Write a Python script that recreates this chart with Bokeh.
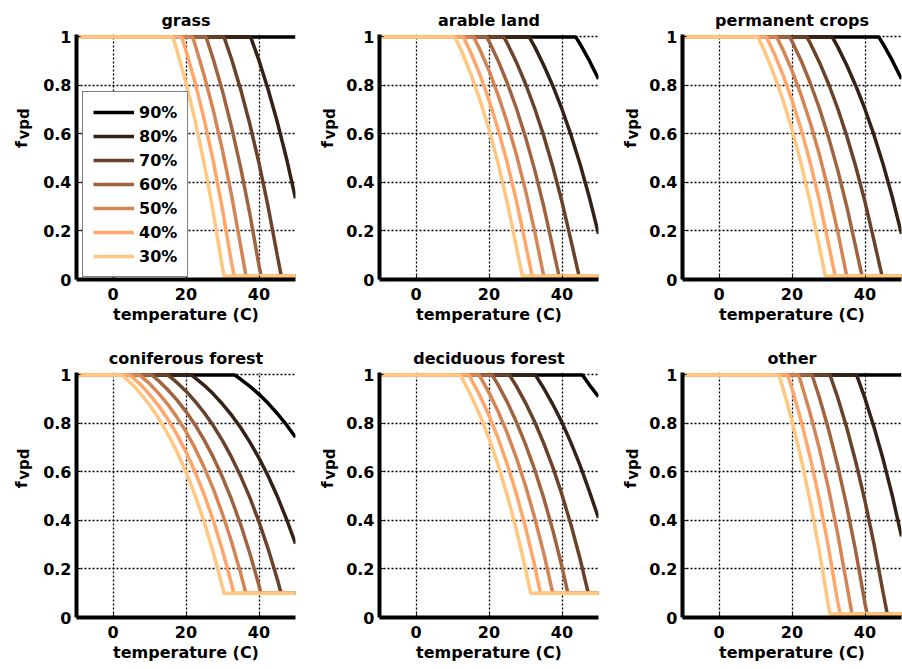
from math import pi

from bokeh.plotting import figure
from bokeh.layouts import column, row
from bokeh.models import Range1d, FixedTicker, NumeralTickFormatter, Legend, LegendItem
from bokeh.core.properties import value
from bokeh.embed import file_html
from bokeh.resources import INLINE

# Relative humidity classes, drawn from the most humid (bottom layer) to the driest (top layer)
HUMIDITY = ["90%", "80%", "70%", "60%", "50%", "40%", "30%"]
COLORS = ["#000000", "#352115", "#6a422a", "#9f643f", "#d48555", "#ffa66a", "#ffc77f"]

X_TICKS = [0, 20, 40]
Y_TICKS = [0, 0.2, 0.4, 0.6, 0.8, 1]

# f_vpd response curves: temperature (C) and reduction factor per humidity class
GRASS_T = {
    "90%": [-10, 50],
    "80%": [-10, 37.7, 40, 42.5, 45, 47.5, 50],
    "70%": [-10, 30.4, 32.5, 35, 37.5, 40, 42.5, 45, 46.1, 50],
    "60%": [-10, 25.5, 27.5, 30, 32.5, 35, 37.5, 40, 40.6, 50],
    "50%": [-10, 21.8, 22.5, 25, 27.5, 30, 32.5, 35, 36.45, 50],
    "40%": [-10, 18.8, 20, 22.5, 25, 27.5, 30, 32.5, 33.2, 50],
    "30%": [-10, 16.4, 17.5, 20, 22.5, 25, 27.5, 30, 30.45, 50],
}
GRASS_F = {
    "90%": [1, 1],
    "80%": [1, 1, 0.903, 0.783, 0.650, 0.501, 0.334],
    "70%": [1, 1, 0.908, 0.782, 0.640, 0.480, 0.300, 0.100, 0.014, 0.014],
    "60%": [1, 1, 0.907, 0.776, 0.627, 0.459, 0.270, 0.057, 0.014, 0.014],
    "50%": [1, 1, 0.968, 0.840, 0.696, 0.532, 0.346, 0.136, 0.014, 0.014],
    "40%": [1, 1, 0.944, 0.811, 0.659, 0.486, 0.289, 0.066, 0.014, 0.014],
    "30%": [1, 1, 0.946, 0.810, 0.655, 0.477, 0.275, 0.046, 0.014, 0.014],
}

ARABLE_T = {
    "90%": [-10, 43.75, 45, 47.5, 50],
    "80%": [-10, 31.0, 32.5, 35, 37.5, 40, 42.5, 45, 47.5, 50],
    "70%": [-10, 24.05, 25, 27.5, 30, 32.5, 35, 37.5, 40, 42.5, 44.68, 50],
    "60%": [-10, 19.35, 20, 22.5, 25, 27.5, 30, 32.5, 35, 37.5, 39.2, 50],
    "50%": [-10, 15.8, 17.5, 20, 22.5, 25, 27.5, 30, 32.5, 35.0, 50],
    "40%": [-10, 13.0, 15, 17.5, 20, 22.5, 25, 27.5, 30, 31.83, 50],
    "30%": [-10, 10.66, 12.5, 15, 17.5, 20, 22.5, 25, 27.5, 29.13, 50],
}
ARABLE_F = {
    "90%": [1, 1, 0.970, 0.902, 0.827],
    "80%": [1, 1, 0.960, 0.883, 0.798, 0.702, 0.594, 0.473, 0.338, 0.188],
    "70%": [1, 1, 0.974, 0.896, 0.807, 0.706, 0.592, 0.464, 0.320, 0.158, 0.014, 0.014],
    "60%": [1, 1, 0.982, 0.902, 0.810, 0.706, 0.587, 0.453, 0.301, 0.130, 0.014, 0.014],
    "50%": [1, 1, 0.948, 0.861, 0.760, 0.646, 0.515, 0.367, 0.199, 0.014, 0.014],
    "40%": [1, 1, 0.936, 0.845, 0.739, 0.619, 0.481, 0.325, 0.147, 0.014, 0.014],
    "30%": [1, 1, 0.941, 0.848, 0.741, 0.618, 0.478, 0.317, 0.135, 0.014, 0.014],
}

CONIFER_T = {
    "90%": [-10, 33.3, 35, 37.5, 40, 42.5, 45, 47.5, 50],
    "80%": [-10, 21.4, 22.5, 25, 27.5, 30, 32.5, 35, 37.5, 40, 42.5, 45, 47.5, 50],
    "70%": [-10, 15.0, 17.5, 20, 22.5, 25, 27.5, 30, 32.5, 35, 37.5, 40, 42.5, 45, 46.05, 50],
    "60%": [-10, 10.6, 12.5, 15, 17.5, 20, 22.5, 25, 27.5, 30, 32.5, 35, 37.5, 40, 40.5, 50],
    "50%": [-10, 7.3, 10, 12.5, 15, 17.5, 20, 22.5, 25, 27.5, 30, 32.5, 35, 36.4, 50],
    "40%": [-10, 4.66, 7.5, 10, 12.5, 15, 17.5, 20, 22.5, 25, 27.5, 30, 32.5, 33.1, 50],
    "30%": [-10, 2.5, 5, 7.5, 10, 12.5, 15, 17.5, 20, 22.5, 25, 27.5, 30, 30.4, 50],
}
CONIFER_F = {
    "90%": [1, 1, 0.982, 0.953, 0.920, 0.883, 0.841, 0.795, 0.743],
    "80%": [1, 1, 0.988, 0.957, 0.921, 0.880, 0.834, 0.782, 0.723, 0.657, 0.583, 0.500, 0.407, 0.304],
    "70%": [1, 1, 0.969, 0.933, 0.891, 0.844, 0.790, 0.729, 0.660, 0.582, 0.494, 0.394, 0.283, 0.159, 0.1, 0.1],
    "60%": [1, 1, 0.976, 0.939, 0.897, 0.849, 0.794, 0.731, 0.660, 0.578, 0.486, 0.382, 0.264, 0.132, 0.1, 0.1],
    "50%": [1, 1, 0.964, 0.924, 0.879, 0.826, 0.766, 0.697, 0.618, 0.529, 0.427, 0.311, 0.181, 0.1, 0.1],
    "40%": [1, 1, 0.961, 0.920, 0.873, 0.818, 0.755, 0.683, 0.600, 0.506, 0.398, 0.276, 0.137, 0.1, 0.1],
    "30%": [1, 1, 0.965, 0.924, 0.876, 0.821, 0.757, 0.684, 0.600, 0.503, 0.393, 0.267, 0.125, 0.1, 0.1],
}

DECID_T = {
    "90%": [-10, 45.6, 47.5, 50],
    "80%": [-10, 32.7, 35, 37.5, 40, 42.5, 45, 47.5, 50],
    "70%": [-10, 25.6, 27.5, 30, 32.5, 35, 37.5, 40, 42.5, 45, 47.2, 50],
    "60%": [-10, 20.85, 22.5, 25, 27.5, 30, 32.5, 35, 37.5, 40, 41.6, 50],
    "50%": [-10, 17.3, 20, 22.5, 25, 27.5, 30, 32.5, 35, 37.47, 50],
    "40%": [-10, 14.43, 15, 17.5, 20, 22.5, 25, 27.5, 30, 32.5, 34.1, 50],
    "30%": [-10, 12.1, 12.5, 15, 17.5, 20, 22.5, 25, 27.5, 30, 31.4, 50],
}
DECID_F = {
    "90%": [1, 1, 0.959, 0.910],
    "80%": [1, 1, 0.945, 0.878, 0.804, 0.719, 0.625, 0.520, 0.410],
    "70%": [1, 1, 0.954, 0.885, 0.807, 0.718, 0.619, 0.506, 0.380, 0.239, 0.1, 0.1],
    "60%": [1, 1, 0.959, 0.888, 0.806, 0.714, 0.610, 0.492, 0.359, 0.209, 0.1, 0.1],
    "50%": [1, 1, 0.927, 0.849, 0.760, 0.658, 0.543, 0.412, 0.265, 0.1, 0.1],
    "40%": [1, 1, 0.986, 0.915, 0.833, 0.739, 0.632, 0.510, 0.372, 0.215, 0.1, 0.1],
    "30%": [1, 1, 0.990, 0.917, 0.834, 0.738, 0.629, 0.504, 0.362, 0.201, 0.1, 0.1],
}

# land-use classes in reading order; permanent crops share the arable curves,
# "other" shares the grass curves
PANELS = [
    ("grass", GRASS_T, GRASS_F),
    ("arable land", ARABLE_T, ARABLE_F),
    ("permanent crops", ARABLE_T, ARABLE_F),
    ("coniferous forest", CONIFER_T, CONIFER_F),
    ("deciduous forest", DECID_T, DECID_F),
    ("other", GRASS_T, GRASS_F),
]

FONT = "DejaVu Sans"
FS = "16px"
LABEL_W = 36  # strip holding the rotated f_vpd label


def make_ylabel(height, fx):
    """Narrow strip carrying the rotated 'f' + subscript 'vpd' label."""
    s = figure(width=LABEL_W, height=height, x_range=Range1d(0, LABEL_W), y_range=Range1d(height, 0),
               min_border=0, x_axis_type=None, y_axis_type=None,
               output_backend="svg", toolbar_location=None)
    s.outline_line_color = None
    s.grid.visible = False
    s.text(x=[fx], y=[147], text=["f"], angle=pi / 2, text_align="right",
           text_baseline="alphabetic", text_font=value(FONT), text_font_size=value("16px"),
           text_font_style="bold", text_color="black")
    s.text(x=[fx + 2], y=[145], text=["vpd"], angle=pi / 2, text_align="left",
           text_baseline="alphabetic", text_font=value(FONT), text_font_size=value("15px"),
           text_font_style="bold", text_color="black")
    return s


def make_panel(index, name, temps, vals):
    col, rw = index % 3, index // 3
    width = (303 if col < 2 else 296) - LABEL_W
    right = 8 if col < 2 else 1
    height = 338 if rw == 0 else 331
    bottom = 59 if rw == 0 else 52
    p = figure(width=width, height=height, x_range=Range1d(-10, 50), y_range=Range1d(0, 1.01),
               min_border_left=76 - LABEL_W, min_border_right=right, min_border_top=34,
               min_border_bottom=bottom, output_backend="svg", toolbar_location=None, title=name)
    p.outline_line_color = None
    p.background_fill_color = "white"
    p.border_fill_color = "white"

    p.title.align = "center"
    p.title.text_font = FONT
    p.title.text_font_size = FS
    p.title.text_font_style = "bold"
    p.title.text_color = "black"

    p.xaxis.ticker = FixedTicker(ticks=X_TICKS)
    p.yaxis.ticker = FixedTicker(ticks=Y_TICKS)
    p.yaxis.formatter = NumeralTickFormatter(format="0.[0]")
    for ax in (p.xaxis[0], p.yaxis[0]):
        ax.axis_line_width = 4
        ax.axis_line_color = "black"
        ax.major_tick_in = 4
        ax.major_tick_out = 0
        ax.major_tick_line_width = 1
        ax.minor_tick_line_color = None
        ax.major_label_text_font = FONT
        ax.major_label_text_font_size = FS
        ax.major_label_text_font_style = "bold"
        ax.major_label_text_color = "black"
    p.yaxis.major_label_standoff = 5
    p.xaxis.major_label_standoff = 8
    p.xaxis.axis_label = "temperature (C)"
    p.xaxis.axis_label_text_font = FONT
    p.xaxis.axis_label_text_font_size = FS
    p.xaxis.axis_label_text_font_style = "bold"
    p.xaxis.axis_label_text_color = "black"
    p.xaxis.axis_label_standoff = 2

    p.grid.grid_line_color = "black"
    p.grid.grid_line_dash = "2 2"
    p.grid.grid_line_width = 1.3

    renderers = []
    for h, c in zip(HUMIDITY, COLORS):
        r = p.line(temps[h], vals[h], line_color=c, line_width=3.5)
        renderers.append((h, r))

    if index == 0:
        legend = Legend(items=[LegendItem(label=h, renderers=[r]) for h, r in renderers],
                        location=(6, 2))
        legend.label_text_font = FONT
        legend.label_text_font_size = FS
        legend.label_text_font_style = "bold"
        legend.label_text_color = "black"
        legend.glyph_width = 41
        legend.glyph_height = 20
        legend.label_height = 20
        legend.label_standoff = 5
        legend.spacing = 4
        legend.padding = 10
        legend.margin = 0
        legend.border_line_color = "black"
        legend.border_line_width = 1
        legend.background_fill_color = "white"
        legend.background_fill_alpha = 1
        p.add_layout(legend)

    strip = make_ylabel(height, [21, 24, 24][col])
    return row(strip, p)


cells = [make_panel(i, *panel) for i, panel in enumerate(PANELS)]
layout = column(row(*cells[:3]), row(*cells[3:]))

open("out.html", "w").write(file_html(layout, INLINE))
